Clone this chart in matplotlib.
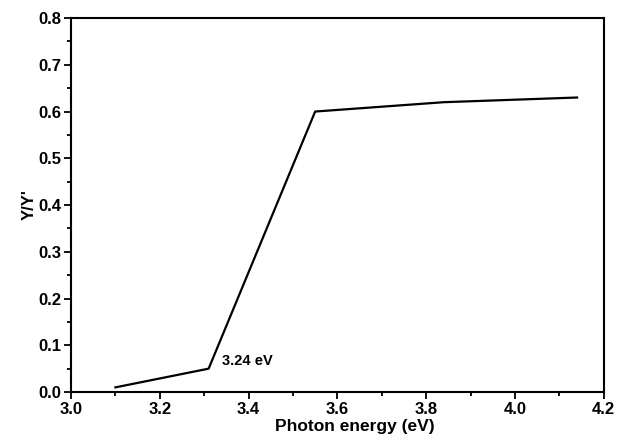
import numpy as np
import matplotlib.pyplot as plt
from matplotlib.ticker import MultipleLocator

# данные
energy = [3.10, 3.31, 3.55, 3.84, 4.14]
ratio = [0.01, 0.05, 0.60, 0.62, 0.63]
note_text = "3.24 eV"

plt.rcParams['font.family'] = ['Liberation Sans', 'DejaVu Sans']
plt.rcParams['font.weight'] = 'bold'

fig = plt.figure(figsize=[6.23, 4.40], dpi=100)
ax = fig.add_axes([0.114, 0.109, 0.855, 0.850])
ax.plot(energy, ratio, color='black', linewidth=1.6)
ax.text(3.34, 0.066, note_text, fontsize=10.5, fontweight='bold', va='center')

ax.set_xlim(3.0, 4.2)
ax.set_ylim(0.0, 0.8)
ax.xaxis.set_major_locator(MultipleLocator(0.2))
ax.xaxis.set_minor_locator(MultipleLocator(0.1))
ax.yaxis.set_major_locator(MultipleLocator(0.1))
ax.yaxis.set_minor_locator(MultipleLocator(0.05))
ax.tick_params(which='both', direction='out', width=1.3, labelsize=12)
ax.tick_params(which='major', length=5, pad=2)
ax.tick_params(which='minor', length=3)
ax.xaxis.set_major_formatter(plt.FormatStrFormatter('%.1f'))
ax.yaxis.set_major_formatter(plt.FormatStrFormatter('%.1f'))
for s in ax.spines.values():
    s.set_linewidth(1.5)

ax.set_xlabel("Photon energy (eV)", fontsize=12.5, fontweight='bold')
ax.xaxis.set_label_coords(0.533, -0.072)
ax.set_ylabel("Y/Y'", fontsize=12, fontweight='bold', labelpad=1)

fig.savefig('out.png', dpi=100)
